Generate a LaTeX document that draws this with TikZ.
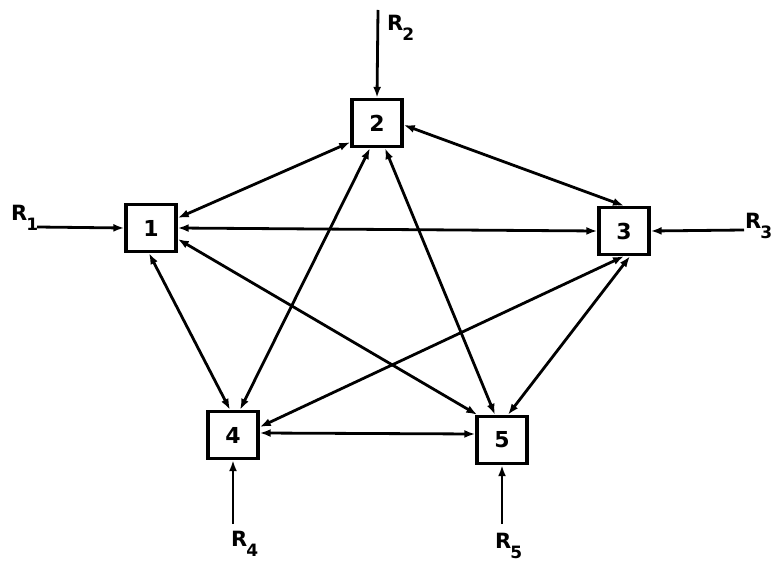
\documentclass[tikz,border=0pt]{standalone}
\usepackage{fontspec}
\setmainfont{DejaVu Sans}
\usetikzlibrary{arrows.meta,calc}
\tikzset{
  box/.style={draw, line width=3.4pt, minimum width=50pt, minimum height=47pt, inner sep=0pt, font=\bfseries\fontsize{22}{22}\selectfont},
  tip/.tip={Latex[length=11pt,width=8pt]},
  link/.style={line width=2.8pt, tip-tip},
  feed/.style={line width=2.8pt, -tip},
  rlab/.style={inner sep=0pt, font=\bfseries\fontsize{21}{21}\selectfont}
}
\newcommand{\Rl}[1]{R\kern-1pt\raisebox{-0.5em}{\fontsize{17}{17}\selectfont #1}}
\begin{document}
\begin{tikzpicture}[x=1pt,y=-1pt]
\useasboundingbox (0,0) rectangle (772,564);
\node[box] (n1) at (151,228) {1};
\node[box] (n2) at (377,123) {2};
\node[box] (n3) at (624,231) {3};
\node[box] (n4) at (233,435) {4};
\node[box] (n5) at (502,440) {5};
% external inputs
\coordinate (r1) at (37,227);
\coordinate (r2) at (378,10);
\coordinate (r3) at (744,230);
\coordinate (r4) at (233,524);
\coordinate (r5) at (502,524);
\node[rlab, anchor=west] (l1) at (11,218) {\Rl{1}};
\node[rlab, anchor=west] (l2) at (387,28) {\Rl{2}};
\node[rlab, anchor=west] (l3) at (745,226) {\Rl{3}};
\node[rlab, anchor=west] (l4) at (231,544) {\Rl{4}};
\node[rlab, anchor=west] (l5) at (495,546) {\Rl{5}};
\draw[feed] (r1) -- (n1.west);
\draw[feed] (r2) -- (n2.north);
\draw[feed] (r3) -- (n3.east);
\draw[feed] (r4) -- (n4.south);
\draw[feed] (r5) -- (n5.south);
% links
\draw[link] (n1.east) -- (n3.west);
\draw[link] ($(n2.south west)+(0,-6)$) -- ($(n1.east)+(0,-10)$);
\draw[link] ($(n2.east)+(0,2)$) -- (n3.north);
\draw[link] ($(n2.south)+(-7,0)$) -- ($(n4.north)+(7,0)$);
\draw[link] ($(n2.south)+(8,0)$) -- ($(n5.north)+(-7,0)$);
\draw[link] ($(n1.south)+(-2,0)$) -- ($(n4.north)+(-3,0)$);
\draw[link] ($(n1.east)+(0,11)$) -- ($(n5.north west)+(2,0)$);
\draw[link] ($(n3.south)+(0,0)$) -- ($(n4.east)+(0,-8)$);
\draw[link] ($(n3.south)+(6,0)$) -- ($(n5.north)+(6,0)$);
\draw[link] ($(n4.east)+(0,-2)$) -- ($(n5.west)+(0,-6)$);
\end{tikzpicture}
\end{document}
